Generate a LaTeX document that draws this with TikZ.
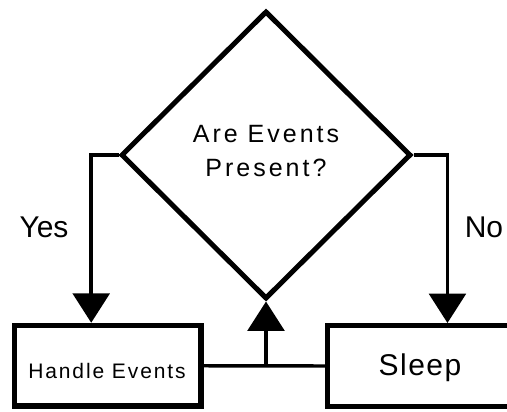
\documentclass[tikz,border=0pt]{standalone}
\usepackage{fontspec}
\setmainfont{Liberation Sans}
\newfontfamily\trackwide[LetterSpace=12]{Liberation Sans}
\newfontfamily\trackmid[LetterSpace=9]{Liberation Sans}
\newfontfamily\tracklow[LetterSpace=5]{Liberation Sans}
\usetikzlibrary{shapes.geometric,arrows.meta}

\begin{document}
\begin{tikzpicture}[x=0.75pt,y=-0.75pt,
  box/.style={draw, line width=4.1pt, inner sep=0pt, fill=white,
    minimum height=60.4pt},
  decision/.style={draw, diamond, line width=3.75pt, inner sep=0pt,
    minimum width=217.5pt, minimum height=216pt},
  conn/.style={line width=2.6pt},
  arr/.style={conn, -{Triangle[length=22pt,width=27.5pt]}},
  lbl/.style={anchor=base, inner sep=0pt}]
\useasboundingbox (0,0) rectangle (507,411);
\fill[white] (0,0) rectangle (507,411);

% shapes
\node[decision] (d) at (266,155) {};
\node[box, minimum width=139.9pt] (he) at (107.75,365.75) {};
\node[box, minimum width=138.75pt] (sl) at (420,366) {};

% texts
\node[align=center, font=\trackwide\fontsize{18.75pt}{25.5pt}\selectfont]
  (qt) at (266,151) {Are Events\\Present?};
\node[lbl, font=\trackmid\fontsize{15.75pt}{18pt}\selectfont]
  (het) at (107,378) {Handle Events};
\node[lbl, font=\tracklow\fontsize{22.5pt}{27pt}\selectfont]
  (slt) at (420,375) {Sleep};
\node[lbl, font=\fontsize{22.5pt}{27pt}\selectfont] (yes) at (44,237) {Yes};
\node[lbl, font=\fontsize{22.5pt}{27pt}\selectfont] (no) at (484,237) {No};

% connectors
\draw[arr] (d.west) -| ([xshift=-12.4pt]he.north);
\draw[arr] (d.east) -| ([xshift=20.6pt]sl.north);
\draw[conn] (he.east) -- (sl.west);
\coordinate (j) at (d.south |- he.east);
\draw[arr] (j) -- (d.south);
\end{tikzpicture}
\end{document}
